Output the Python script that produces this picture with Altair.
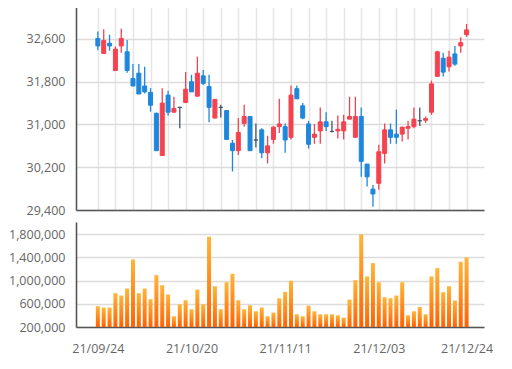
import altair as alt
import pandas as pd

dates = [
    "21/09/24", "21/09/27", "21/09/28", "21/09/29", "21/09/30",
    "21/10/01", "21/10/05", "21/10/06", "21/10/07", "21/10/08",
    "21/10/12", "21/10/13", "21/10/14", "21/10/15", "21/10/18",
    "21/10/19", "21/10/20", "21/10/21", "21/10/22", "21/10/25",
    "21/10/26", "21/10/27", "21/10/28", "21/10/29", "21/11/01",
    "21/11/02", "21/11/03", "21/11/04", "21/11/05", "21/11/08",
    "21/11/09", "21/11/10", "21/11/11", "21/11/12", "21/11/15",
    "21/11/16", "21/11/17", "21/11/18", "21/11/19", "21/11/22",
    "21/11/23", "21/11/24", "21/11/25", "21/11/26", "21/11/29",
    "21/11/30", "21/12/01", "21/12/02", "21/12/03", "21/12/06",
    "21/12/07", "21/12/08", "21/12/09", "21/12/10", "21/12/13",
    "21/12/14", "21/12/15", "21/12/16", "21/12/17", "21/12/20",
    "21/12/21", "21/12/22", "21/12/23", "21/12/24",
]

opens = [
    32610, 32330, 32520, 32010, 32470, 32360, 31860, 31960, 31720, 31600,
    31210, 30420, 31550, 31230, 31320, 31410, 31800, 31530, 31910, 31710,
    31120, 31320, 31260, 30650, 30510, 31020, 31150, 30710, 30900, 30470,
    30720, 30960, 30960, 30760, 31670, 31350, 31010, 30760, 30880, 31050,
    30870, 30880, 30880, 31100, 30760, 31150, 30260, 29790, 29900, 30460,
    30900, 30820, 30820, 30930, 30960, 31070, 31080, 31230, 31900, 32240,
    32080, 32320, 32470, 32680,
]
highs = [
    32740, 32780, 32680, 32460, 32790, 32580, 32130, 32130, 32080, 31680,
    31220, 31680, 31630, 31520, 31330, 31980, 31930, 32270, 32020, 31930,
    31470, 31370, 31260, 30710, 31120, 31370, 31160, 31020, 30930, 30790,
    30970, 31480, 31020, 31730, 31730, 31400, 31070, 31010, 31320, 31230,
    31070, 31170, 31180, 31520, 31520, 31320, 30260, 29870, 30620, 31020,
    31020, 31280, 30960, 31070, 31320, 31320, 31150, 31820, 32380, 32340,
    32380, 32470, 32630, 32880,
]
lows = [
    32390, 32330, 32380, 32010, 32340, 31970, 31720, 31570, 31580, 31240,
    30510, 30420, 31170, 31230, 30930, 31410, 31610, 31520, 31740, 31040,
    31120, 31130, 30720, 30120, 30430, 30960, 30510, 30570, 30370, 30270,
    30640, 30840, 30470, 30720, 31480, 31100, 30550, 30640, 30640, 30880,
    30850, 30740, 30720, 31100, 30760, 30020, 29840, 29460, 29780, 30270,
    30640, 30640, 30680, 30720, 30930, 30970, 31030, 31180, 31900, 31900,
    31990, 32100, 32340, 32640,
]
closes = [
    32470, 32570, 32470, 32410, 32610, 32010, 31720, 31570, 31610, 31360,
    30510, 31400, 31230, 31300, 31320, 31660, 31610, 31960, 31770, 31320,
    31470, 31320, 30720, 30510, 30850, 31150, 30510, 30710, 30470, 30600,
    30950, 31010, 30710, 31550, 31480, 31120, 30630, 30820, 31050, 30960,
    30870, 30910, 31050, 31150, 31150, 30310, 30020, 29700, 30490, 30900,
    30760, 30760, 30950, 30960, 31100, 31070, 31110, 31760, 32360, 31980,
    32260, 32130, 32530, 32770,
]
volumes = [
    558000, 535000, 535000, 783000, 743000, 864000, 1366000, 783000, 864000, 679000,
    1095000, 922000, 760000, 385000, 592000, 662000, 506000, 846000, 592000, 1758000,
    904000, 506000, 973000, 1118000, 662000, 506000, 575000, 471000, 535000, 385000,
    448000, 696000, 806000, 997000, 419000, 385000, 569000, 471000, 419000, 419000,
    419000, 402000, 362000, 673000, 1008000, 1799000, 1072000, 1302000, 973000, 714000,
    696000, 743000, 973000, 402000, 471000, 546000, 419000, 1072000, 1216000, 800000,
    904000, 656000, 1326000, 1400000,
]

price_ticks = [29400, 30200, 31000, 31800, 32600]
price_domain = [29400, 33217]
volume_ticks = [200000, 600000, 1000000, 1400000, 1800000]
volume_domain = [200000, 2012000]
volume_base = 200000
label_dates = ["21/09/24", "21/10/20", "21/11/11", "21/12/03", "21/12/24"]
x_domain = [-2.88, 65.12]

idx = list(range(len(dates)))
direction = [
    "up" if c > o else ("down" if c < o else "flat") for o, c in zip(opens, closes)
]
df = pd.DataFrame({
    "i": idx, "date": dates, "open": opens, "high": highs, "low": lows,
    "close": closes, "volume": volumes, "dir": direction,
})

label_idx = [dates.index(d) for d in label_dates]
grid_idx = list(range(0, len(dates), 3))
label_expr = "''"
for k, d in zip(label_idx, label_dates):
    label_expr = f"datum.value == {k} ? '{d}' : ({label_expr})"

color_scale = alt.Scale(domain=["up", "down", "flat"],
                        range=["#f5424f", "#1f87db", "#45556b"])

W = 408
base = alt.Chart(df)
x_price = alt.X("i:Q", scale=alt.Scale(domain=x_domain, nice=False, zero=False),
                axis=alt.Axis(values=grid_idx, grid=True, labels=False, ticks=False,
                              domain=True, title=None, gridColor="#e6e6e6",
                              gridWidth=1.6))

wick = base.mark_rule(strokeWidth=1.3).encode(
    x=x_price,
    y=alt.Y("low:Q", scale=alt.Scale(domain=price_domain, nice=False, zero=False),
            axis=alt.Axis(values=price_ticks, format=",d", grid=True, title=None,
                          labelPadding=11)),
    y2="high:Q",
    color=alt.Color("dir:N", scale=color_scale, legend=None),
)
body = base.mark_bar(size=4, strokeWidth=1).encode(
    x=x_price,
    y=alt.Y("open:Q"),
    y2="close:Q",
    color=alt.Color("dir:N", scale=color_scale, legend=None),
    stroke=alt.Stroke("dir:N", scale=color_scale, legend=None),
)
price = alt.layer(wick, body).properties(width=W, height=204)

grad = alt.Gradient(
    gradient="linear",
    stops=[alt.GradientStop(color="#ffb53a", offset=0),
           alt.GradientStop(color="#ff6200", offset=1)],
    x1=0, x2=0, y1=0, y2=1,
)
vol = base.mark_bar(size=4, color=grad).encode(
    x=alt.X("i:Q", scale=alt.Scale(domain=x_domain, nice=False, zero=False),
            axis=alt.Axis(values=label_idx, labelExpr=label_expr, grid=False,
                          ticks=False, title=None, labelPadding=15,
                          labelFlush=False, labelOverlap=False)),
    y=alt.Y("volume:Q", scale=alt.Scale(domain=volume_domain, nice=False, zero=False),
            axis=alt.Axis(values=volume_ticks, format=",d", grid=True, title=None,
                          labelPadding=11)),
    y2=alt.datum(volume_base),
).properties(width=W, height=105)

chart = alt.vconcat(price, vol, spacing=5).properties(
    padding={"left": 0, "top": -2, "right": 0, "bottom": 0}
).configure_axis(
    labelFont="Open Sans", labelFontSize=12.5, labelColor="#666666",
    domainColor="#555555", domainWidth=1.6, gridColor="#dcdcdc", gridWidth=1.5,
    ticks=False,
).configure_view(stroke=None)

chart.save("out.html", embed_options={"renderer": "svg", "actions": False})
